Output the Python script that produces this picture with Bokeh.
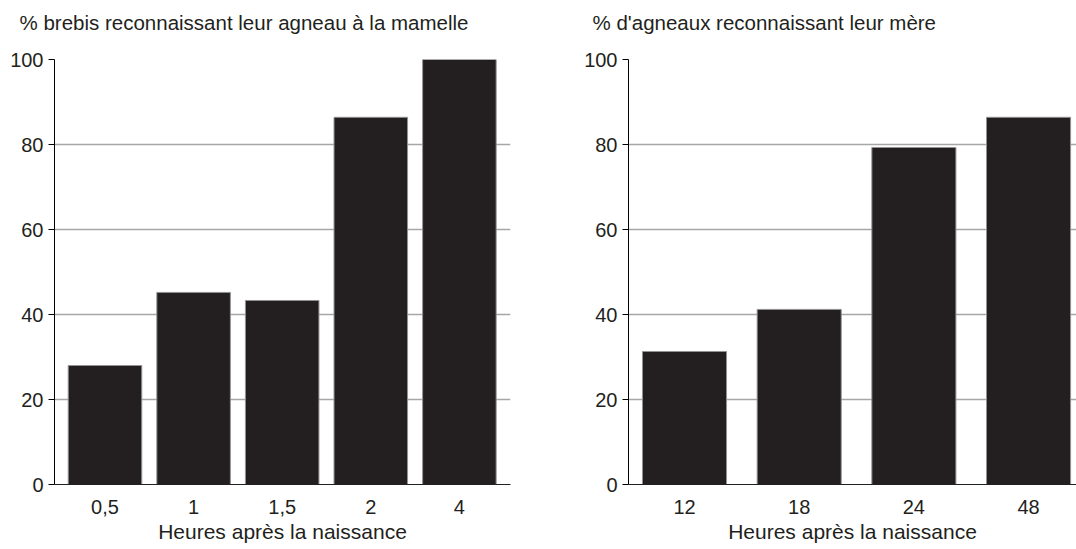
from bokeh.plotting import figure
from bokeh.models import Range1d, FixedTicker, Title
from bokeh.layouts import row
from bokeh.embed import file_html
from bokeh.resources import INLINE

# ---- data ----
left_title = "% brebis reconnaissant leur agneau à la mamelle"
left_categories = ["0,5", "1", "1,5", "2", "4"]
left_values = [28.0, 45.2, 43.3, 86.4, 100.0]

right_title = "% d'agneaux reconnaissant leur mère"
right_categories = ["12", "18", "24", "48"]
right_values = [31.3, 41.2, 79.3, 86.4]

x_label = "Heures après la naissance"
y_ticks = [0, 20, 40, 60, 80, 100]
grid_ticks = [20, 40, 60, 80, 100]

FONT = "Liberation Sans"
BAR = "#231f20"
TXT = "#231f20"


def make(title, cats, vals, width, bl, br, xstart, xend, bar_w, title_off):
    xs = list(range(len(cats)))
    p = figure(width=width, height=549, output_backend="svg", toolbar_location=None,
               title=None,
               x_range=Range1d(xstart, xend), y_range=Range1d(0, 100),
               min_border_left=bl, min_border_right=br,
               min_border_top=59, min_border_bottom=65)
    p.outline_line_color = None
    p.background_fill_color = "white"
    p.border_fill_color = "white"

    # spacer between frame and title, then the title itself
    p.add_layout(Title(text=" ", text_font_size="12px", standoff=10,
                       text_color="white"), "above")
    p.add_layout(Title(text=title, text_font=FONT, text_font_size="20.5px",
                       text_font_style="normal", text_color=TXT,
                       align="left", offset=title_off, standoff=0), "above")

    p.vbar(x=xs, top=vals, width=bar_w, bottom=0,
           fill_color=BAR, line_color="#939393", line_width=1)

    p.xgrid.visible = False
    p.ygrid.ticker = FixedTicker(ticks=grid_ticks)
    p.ygrid.grid_line_color = "#a6a6a6"
    p.ygrid.grid_line_width = 1.5
    p.ygrid.level = "underlay"

    ya = p.yaxis[0]
    ya.ticker = FixedTicker(ticks=y_ticks)
    ya.major_tick_out = 6
    ya.major_tick_in = 0
    ya.minor_tick_out = 0
    ya.minor_tick_in = 0
    ya.major_label_standoff = 5
    ya.axis_line_color = "black"
    ya.major_tick_line_color = "black"
    ya.major_label_text_font = FONT
    ya.major_label_text_font_size = "20px"
    ya.major_label_text_color = TXT

    xa = p.xaxis[0]
    xa.ticker = FixedTicker(ticks=xs)
    xa.major_label_overrides = {i: c for i, c in zip(xs, cats)}
    xa.major_tick_out = 0
    xa.major_tick_in = 0
    xa.minor_tick_out = 0
    xa.minor_tick_in = 0
    xa.axis_line_color = "#222222"
    xa.major_label_standoff = 15
    xa.major_label_text_font = FONT
    xa.major_label_text_font_size = "20px"
    xa.major_label_text_color = TXT
    xa.axis_label = x_label
    xa.axis_label_standoff = 3
    xa.axis_label_text_font = FONT
    xa.axis_label_text_font_size = "21px"
    xa.axis_label_text_font_style = "normal"
    xa.axis_label_text_color = TXT
    return p


p1 = make(left_title, left_categories, left_values, 540, 54, 30,
          -0.570, 4.577, 0.83, -35)
p2 = make(right_title, right_categories, right_values, 536, 88, 0,
          -0.4884, 3.418, 0.733, -36)

layout = row(p1, p2)
open("out.html", "w").write(file_html(layout, INLINE))
